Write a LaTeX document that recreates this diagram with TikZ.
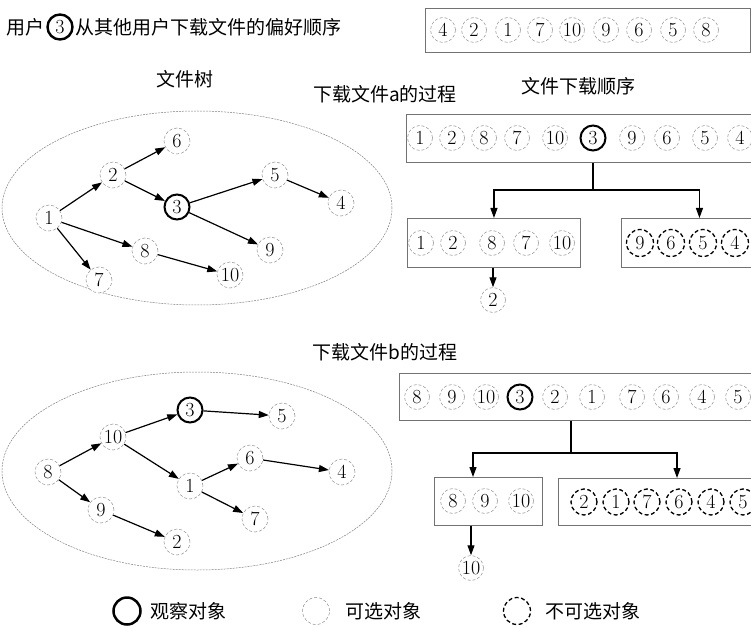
\documentclass[tikz,border=0pt]{standalone}
\usepackage{fontspec}
\newfontfamily\cjk{Noto Sans CJK SC}
\usetikzlibrary{arrows.meta,shapes.geometric}
\begin{document}
\begin{tikzpicture}[x=1pt,y=-1pt,
  num/.style={font=\fontsize{20}{20}\selectfont},
  opt/.style={circle, draw=black!45, densely dashed, line width=0.5pt, minimum size=26pt, inner sep=0pt, fill=white, num},
  obs/.style={circle, draw=black, line width=2pt, minimum size=25pt, inner sep=0pt, fill=white, num},
  nopt/.style={circle, draw=black, dash pattern=on 4pt off 2.5pt, line width=1.3pt, minimum size=27pt, inner sep=0pt, num},
  seqbox/.style={draw=black!55, line width=0.9pt, fill=white, inner sep=0pt, anchor=north west},
  arr/.style={-{Triangle[length=10pt,width=7pt]}, line width=1.2pt},
  conn/.style={line width=1.2pt},
  lbl/.style={font=\cjk\fontsize{19}{19}\selectfont, inner sep=0pt},
  grp/.style={ellipse, draw=black!50, dash pattern=on 2pt off 1pt, line width=0.5pt}
]
\useasboundingbox (0,0) rectangle (751,628);
\clip (0,0) rectangle (751,628);

% title
\node[lbl, anchor=east] (t1) at (45,27) {用户};
\node[obs, line width=2.4pt] (t3) at (60,27) {3};
\node[lbl, anchor=west] (t2) at (75,27) {从其他用户下载文件的偏好顺序};

% preference box
\node[seqbox, minimum width=325pt, minimum height=44pt] (pbox) at (425,8) {};
\foreach \n/\x in {4/443,2/474,1/508,7/540,10/572,9/606,6/639,5/673,8/706}
  \node[opt, minimum size=25pt] (p\n) at (\x,30) {\n};

% labels
\node[lbl] (l1) at (185,79) {文件树};
\node[lbl] (l2) at (385,94) {下载文件a的过程};
\node[lbl] (l3) at (578,86) {文件下载顺序};
\node[lbl] (l4) at (385,352) {下载文件b的过程};

% tree a
\node[grp, minimum width=390pt, minimum height=194pt] (ea) at (197,208) {};
\node[opt] (a6) at (177,141) {6};
\node[opt] (a2) at (113,175) {2};
\node[opt] (a5) at (275,175) {5};
\node[obs] (a3) at (177,207) {3};
\node[opt] (a4) at (341,203) {4};
\node[opt] (a1) at (49,218) {1};
\node[opt] (a8) at (145,251) {8};
\node[opt] (a9) at (270,250) {9};
\node[opt] (a10) at (230,275) {10};
\node[opt] (a7) at (99,280) {7};
\foreach \u/\v in {a1/a2,a2/a6,a2/a3,a3/a5,a5/a4,a3/a9,a1/a8,a8/a10,a1/a7}
  \draw[arr] (\u) -- (\v);

% sequence a
\node[seqbox, minimum width=360pt, minimum height=48pt] (abox) at (406,114) {};
\foreach \n/\x in {1/420,2/452,8/484,7/517,10/555,9/632,6/667,5/705,4/740}
  \node[opt, minimum size=25pt] (sa\n) at (\x,138) {\n};
\node[obs] (sa3) at (593,138) {3};
\node[seqbox, minimum width=173pt, minimum height=49pt] (aL) at (407,218) {};
\node[seqbox, minimum width=156pt, minimum height=49pt] (aR) at (621,218) {};
\foreach \n/\x in {1/421,2/453,8/492,7/526,10/562}
  \node[opt, minimum size=25pt] (la\n) at (\x,243) {\n};
\foreach \n/\x in {9/640,6/671,5/703,4/735}
  \node[nopt] (ra\n) at (\x,243) {\n};
\coordinate (ja) at (593,190);
\draw[conn] (sa3 |- abox.south) -- (ja);
\draw[arr] (ja) -| (aL.north);
\draw[arr] (ja) -| (aR.north);
\node[opt, minimum size=25pt] (da2) at (493,300) {2};
\draw[arr] (da2 |- aL.south) -- (da2);

% tree b
\node[grp, minimum width=390pt, minimum height=198pt] (eb) at (197,471) {};
\node[obs] (b3) at (190,410) {3};
\node[opt] (b5) at (282,416) {5};
\node[opt] (b10) at (113,437) {10};
\node[opt] (b6) at (250,458) {6};
\node[opt] (b8) at (48,472) {8};
\node[opt] (b4) at (342,472) {4};
\node[opt] (b1) at (190,486) {1};
\node[opt] (b9) at (101,510) {9};
\node[opt] (b7) at (255,519) {7};
\node[opt] (b2) at (177,542) {2};
\foreach \u/\v in {b8/b10,b10/b3,b3/b5,b10/b1,b1/b6,b6/b4,b1/b7,b8/b9,b9/b2}
  \draw[arr] (\u) -- (\v);

% sequence b
\node[seqbox, minimum width=360pt, minimum height=47pt] (bbox) at (399,373) {};
\foreach \n/\x in {8/417,9/452,10/486,2/555,1/592,7/632,6/666,4/702,5/738}
  \node[opt, minimum size=25pt] (sb\n) at (\x,397) {\n};
\node[obs] (sb3) at (520,397) {3};
\node[seqbox, minimum width=108pt, minimum height=48pt] (bL) at (434,477) {};
\node[seqbox, minimum width=200pt, minimum height=47pt] (bR) at (558,478) {};
\foreach \n/\x in {8/453,9/485,10/521}
  \node[opt, minimum size=25pt] (lb\n) at (\x,501) {\n};
\foreach \n/\x in {2/584,1/616,7/647,6/679,4/711,5/743}
  \node[nopt, minimum size=26pt] (rb\n) at (\x,502) {\n};
\coordinate (jb) at (571,453);
\coordinate (bLt) at (473,477);
\coordinate (bRt) at (677,478);
\draw[conn] (jb |- bbox.south) -- (jb);
\draw[arr] (jb) -| (bLt);
\draw[arr] (jb) -| (bRt);
\node[opt, minimum size=25pt] (db10) at (471,568) {10};
\draw[arr] (db10 |- bL.south) -- (db10);

% legend
\node[obs, minimum size=27pt, line width=2.5pt] (g1) at (127,611) {};
\node[lbl, anchor=west] (g1t) at (150,611) {观察对象};
\node[opt, minimum size=27pt] (g2) at (316,611) {};
\node[lbl, anchor=west] (g2t) at (345,611) {可选对象};
\node[nopt, minimum size=27pt] (g3) at (517,611) {};
\node[lbl, anchor=west] (g3t) at (545,611) {不可选对象};
\end{tikzpicture}
\end{document}
